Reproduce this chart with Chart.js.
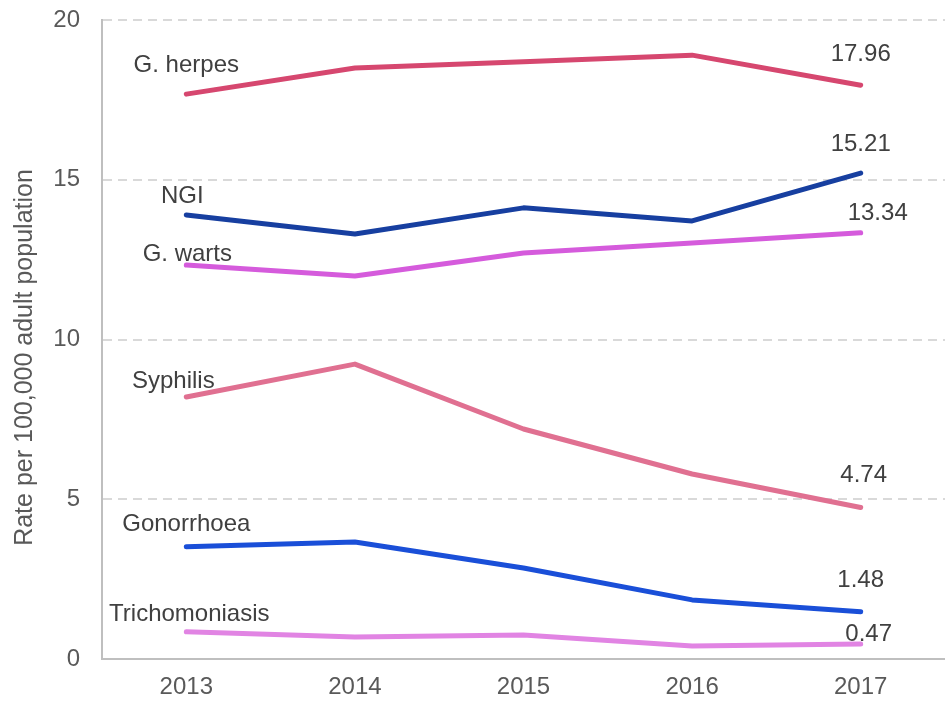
<!DOCTYPE html>
<html>
<head>
<meta charset="utf-8">
<script src="https://cdn.jsdelivr.net/npm/chart.js@4/dist/chart.umd.min.js"></script>
<style>
  html, body { margin: 0; padding: 0; background: #fff; }
  #wrap { width: 945px; height: 702px; position: relative; }
</style>
</head>
<body>
<div id="wrap"><canvas id="c" width="945" height="702"></canvas></div>
<script>
// ---- data ----
const years = ['2013', '2014', '2015', '2016', '2017'];
const seriesNames = ['G. herpes', 'NGI', 'G. warts', 'Syphilis', 'Gonorrhoea', 'Trichomoniasis'];
const gHerpes = [17.68, 18.50, 18.69, 18.90, 17.96];
const ngi = [13.90, 13.30, 14.12, 13.71, 15.21];
const gWarts = [12.33, 11.99, 12.71, 13.02, 13.34];
const syphilis = [8.20, 9.23, 7.20, 5.79, 4.74];
const gonorrhoea = [3.51, 3.66, 2.85, 1.85, 1.48];
const trichomoniasis = [0.85, 0.69, 0.75, 0.41, 0.47];
const yTicks = [0, 5, 10, 15, 20];
const yTitle = 'Rate per 100,000 adult population';

// ---- styling (not data) ----
const colors = ['#D6476F', '#173FA0', '#D55BDC', '#E07091', '#1A4FD8', '#E184E3'];
// name label offsets relative to first point [dx, dy]
const nameOffsets = [[0, -29], [-4, -19], [1, -11], [-13, -16], [0, -22], [3, -17]];
// value label offsets relative to last point
const valueOffsets = [[0, -31], [0, -29], [17, -19], [3, -32], [0, -31], [8, -10]];
const titleShift = 18; // title centre sits a little below the plot centre

const allValues = [gHerpes, ngi, gWarts, syphilis, gonorrhoea, trichomoniasis];
const FONT = '"Liberation Sans", Arial, Helvetica, sans-serif';

const labelPlugin = {
  id: 'lineLabels',
  afterDatasetsDraw(chart) {
    const ctx = chart.ctx;
    ctx.save();
    ctx.font = '24px ' + FONT;
    ctx.fillStyle = '#404040';
    ctx.textAlign = 'center';
    ctx.textBaseline = 'middle';
    chart.data.datasets.forEach((ds, i) => {
      const meta = chart.getDatasetMeta(i);
      const first = meta.data[0];
      const last = meta.data[meta.data.length - 1];
      ctx.fillText(seriesNames[i], first.x + nameOffsets[i][0], first.y + nameOffsets[i][1]);
      const v = ds.data[ds.data.length - 1];
      ctx.fillText(v.toFixed(2), last.x + valueOffsets[i][0], last.y + valueOffsets[i][1]);
    });
    // y-axis title
    const ys = chart.scales.y;
    ctx.font = '25px ' + FONT;
    ctx.fillStyle = '#595959';
    ctx.translate(ys.left + 25, (ys.top + ys.bottom) / 2 + titleShift);
    ctx.rotate(-Math.PI / 2);
    ctx.fillText(yTitle, 0, 0);
    ctx.restore();
  }
};

new Chart(document.getElementById('c'), {
  type: 'line',
  data: {
    labels: years,
    datasets: seriesNames.map((n, i) => ({
      label: n,
      data: allValues[i],
      borderColor: colors[i],
      backgroundColor: colors[i],
      borderWidth: 5,
      borderCapStyle: 'round',
      borderJoinStyle: 'round',
      pointRadius: 0,
      tension: 0
    }))
  },
  options: {
    responsive: false,
    animation: false,
    layout: { padding: { top: 0, right: 0, left: 0, bottom: 0 } },
    plugins: {
      legend: { display: false },
      tooltip: { enabled: false }
    },
    scales: {
      x: {
        offset: true,
        grid: { display: false, drawTicks: false },
        border: { display: true, color: '#BFBFBF', width: 2 },
        ticks: {
          color: '#595959',
          font: { family: FONT, size: 24 },
          padding: 14
        },
        afterFit(scale) { scale.height = 43; scale.paddingLeft = 0; scale.paddingRight = 0; }
      },
      y: {
        min: 0,
        max: 20,
        afterBuildTicks(scale) { scale.ticks = yTicks.map(v => ({ value: v })); },
        grid: {
          color: (c) => (c.tick && c.tick.value === 0) ? 'rgba(0,0,0,0)' : '#D9D9D9',
          lineWidth: 2,
          drawTicks: false
        },
        border: { display: true, color: '#BFBFBF', width: 2, dash: [9, 6] },
        ticks: {
          color: '#595959',
          font: { family: FONT, size: 24 },
          padding: 22
        },
        title: { display: false },
        afterFit(scale) { scale.width = 102; scale.paddingTop = 20; scale.paddingBottom = 0; }
      }
    }
  },
  plugins: [labelPlugin]
});
</script>
</body>
</html>
